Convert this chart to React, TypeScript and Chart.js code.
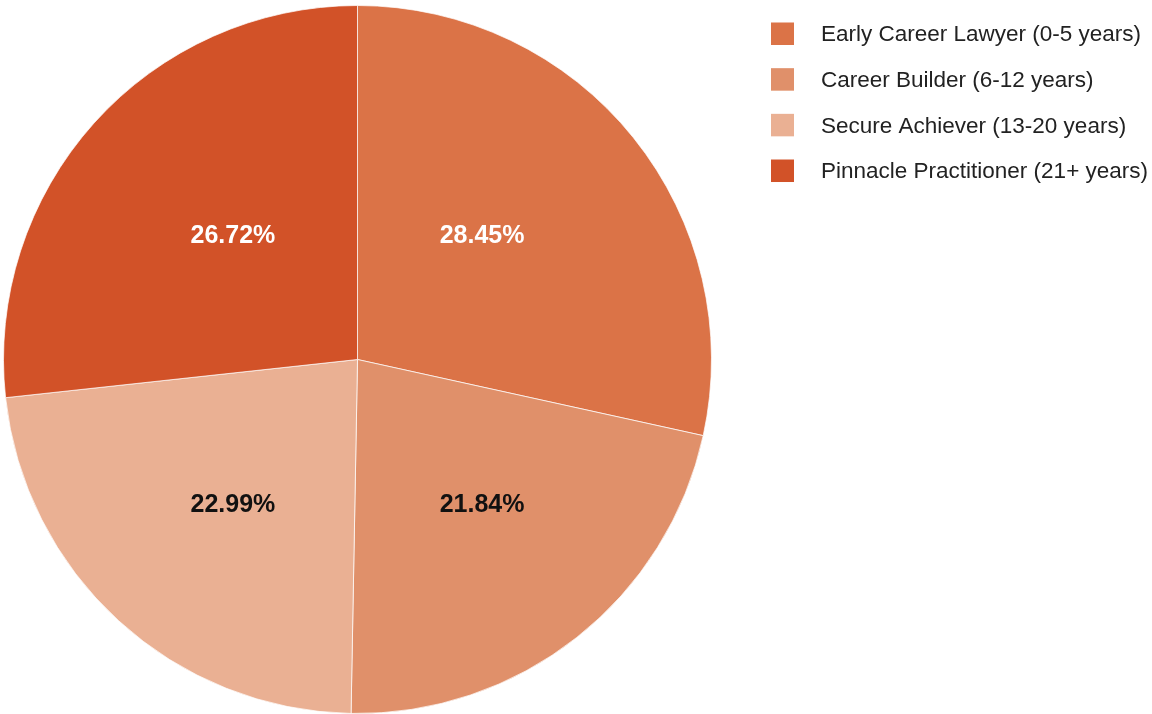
import React, { useEffect, useRef } from "react";
import { Chart, registerables } from "chart.js";

Chart.register(...registerables);

const categories = [
  "Early Career Lawyer (0-5 years)",
  "Career Builder (6-12 years)",
  "Secure Achiever (13-20 years)",
  "Pinnacle Practitioner (21+ years)",
];
const shares = [28.45, 21.84, 22.99, 26.72];
const sliceColors = ["#DB7347", "#E0906A", "#EAB093", "#D25228"];
const labelColors = ["#ffffff", "#111111", "#111111", "#ffffff"];

const FONT = "'Liberation Sans', Arial, Helvetica, sans-serif";

const sliceLabelPlugin = {
  id: "sliceLabels",
  afterDatasetsDraw(chart: any) {
    const ctx = chart.ctx;
    const meta = chart.getDatasetMeta(0);
    ctx.save();
    ctx.font = `bold 25px ${FONT}`;
    ctx.textAlign = "center";
    ctx.textBaseline = "middle";
    meta.data.forEach((arc: any, i: number) => {
      const p = arc.getProps(["x", "y", "startAngle", "endAngle", "outerRadius"], true);
      const mid = (p.startAngle + p.endAngle) / 2;
      const sx = Math.cos(mid) >= 0 ? 1 : -1;
      const sy = Math.sin(mid) >= 0 ? 1 : -1;
      const dx = sx * p.outerRadius * 0.352;
      const dy = sy > 0 ? p.outerRadius * 0.412 : -p.outerRadius * 0.349;
      ctx.fillStyle = labelColors[i];
      ctx.fillText(shares[i].toFixed(2) + "%", p.x + dx, p.y + dy);
    });
    ctx.restore();
  },
};

const legendPlugin = {
  id: "sideLegend",
  afterDraw(chart: any) {
    const ctx = chart.ctx;
    const ds = chart.data.datasets[0];
    ctx.save();
    ctx.font = `22.5px ${FONT}`;
    ctx.textAlign = "left";
    ctx.textBaseline = "middle";
    chart.data.labels.forEach((lab: string, i: number) => {
      const y = 22.5 + i * 45.67;
      ctx.fillStyle = ds.backgroundColor[i];
      ctx.fillRect(771, y, 23, 22.5);
      ctx.fillStyle = "#222222";
      ctx.fillText(lab, 821, y + 12.5);
    });
    ctx.restore();
  },
};

export default function App() {
  const ref = useRef<HTMLCanvasElement>(null);
  useEffect(() => {
    if (!ref.current) return;
    const chart = new Chart(ref.current, {
      type: "pie",
      data: {
        labels: categories,
        datasets: [
          {
            data: shares,
            backgroundColor: sliceColors,
            borderColor: "rgba(255,255,255,0.7)",
            borderWidth: 1,
          },
        ],
      },
      options: {
        animation: false,
        responsive: true,
        maintainAspectRatio: false,
        layout: { padding: { top: 5, left: 3, bottom: 0, right: 440 } },
        plugins: {
          legend: { display: false },
          tooltip: { enabled: false },
        },
      },
      plugins: [sliceLabelPlugin, legendPlugin],
    });
    return () => chart.destroy();
  }, []);
  return (
    <div style={{ position: "absolute", left: 0, top: 0, width: 1152, height: 714, background: "#fff" }}>
      <canvas ref={ref} />
    </div>
  );
}
